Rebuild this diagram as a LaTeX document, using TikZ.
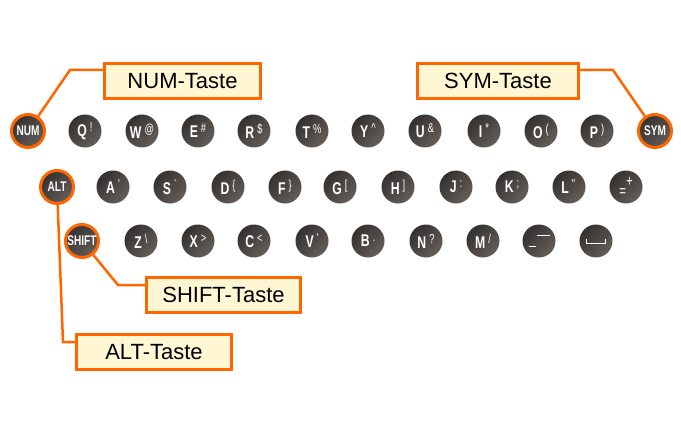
\documentclass[tikz,border=0pt]{standalone}
\usepackage{fontspec}
\setmainfont{Liberation Sans}
\newfontfamily\keyfont[FakeStretch=0.72]{Liberation Sans}
\usepackage{tikz}
\definecolor{tasteorange}{RGB}{255,102,0}
\definecolor{tastefill}{RGB}{255,247,212}
\definecolor{keydark}{RGB}{52,49,47}
\definecolor{keylight}{RGB}{100,94,89}
\newcommand{\keycap}[2]{{\fontsize{17}{17}\selectfont\bfseries #1}\hspace{3pt}\raisebox{5pt}{\fontsize{13}{13}\selectfont #2}}
\tikzset{%
  key/.style       = {circle, inner sep=0pt, minimum size=33pt,%
                      top color=keydark, bottom color=keylight, shading angle=45,%
                      text=white, font=\keyfont},%
  modkey/.style    = {key, draw=tasteorange, line width=3pt,%
                      font=\keyfont\bfseries\fontsize{14}{14}\selectfont},%
  tastebox/.style  = {rectangle, draw=tasteorange, line width=3pt, fill=tastefill,%
                      minimum height=35pt, font=\fontsize{22}{24}\selectfont},%
  connector/.style = {draw=tasteorange, line width=2.5pt}%
}

\begin{document}
\begin{tikzpicture}[x=1pt,y=-1pt]
	\useasboundingbox (0,0) rectangle (681,436);
	% erste Reihe
	\node [modkey] (num) at (28,131) {NUM};
	\node [key] (q) at (85,131) {\keycap{Q}{!}};
	\node [key] (w) at (142,131) {\keycap{W}{@}};
	\node [key] (e) at (198,131) {\keycap{E}{\#}};
	\node [key] (r) at (254,131) {\keycap{R}{\$}};
	\node [key] (t) at (312,131) {\keycap{T}{\%}};
	\node [key] (y) at (368,131) {\keycap{Y}{\textasciicircum}};
	\node [key] (u) at (425,131) {\keycap{U}{\&}};
	\node [key] (i) at (484,131) {\keycap{I}{*}};
	\node [key] (o) at (541,131) {\keycap{O}{(}};
	\node [key] (p) at (597,131) {\keycap{P}{)}};
	\node [modkey] (sym) at (655,131) {SYM};
	% zweite Reihe
	\node [modkey] (alt) at (57,187) {ALT};
	\node [key] (a) at (113,187) {\keycap{A}{'}};
	\node [key] (s) at (170,187) {\keycap{S}{`}};
	\node [key] (d) at (228,187) {\keycap{D}{\{}};
	\node [key] (f) at (285,187) {\keycap{F}{\}}};
	\node [key] (g) at (340,187) {\keycap{G}{[}};
	\node [key] (h) at (398,187) {\keycap{H}{]}};
	\node [key] (j) at (456,187) {\keycap{J}{:}};
	\node [key] (k) at (512,187) {\keycap{K}{;}};
	\node [key] (l) at (569,187) {\keycap{L}{\textquotedbl}};
	\node [key] (plus) at (626,187) {\fontsize{16}{16}\selectfont\raisebox{-5pt}{=}\raisebox{5pt}{+}};
	% dritte Reihe
	\node [modkey] (shift) at (82,241) {SHIFT};
	\node [key] (z) at (141,241) {\keycap{Z}{\textbackslash}};
	\node [key] (x) at (198,241) {\keycap{X}{>}};
	\node [key] (c) at (254,241) {\keycap{C}{<}};
	\node [key] (v) at (312,241) {\keycap{V}{'}};
	\node [key] (b) at (368,241) {\keycap{B}{.}};
	\node [key] (n) at (426,241) {\keycap{N}{?}};
	\node [key] (m) at (483,241) {\keycap{M}{/}};
	\node [key] (minus) at (539,241) {\raisebox{-5pt}{\rule{7pt}{0.8pt}}\hspace{1pt}\raisebox{6pt}{\rule{13pt}{0.8pt}}};
	\node [key] (space) at (596,241) {\raisebox{-3pt}{\rule{0.8pt}{5pt}\rule{18pt}{0.8pt}\rule{0.8pt}{5pt}}};
	% Beschriftungen
	\node [tastebox, minimum width=156pt] (num-box) at (182.5,81) {NUM-Taste};
	\node [tastebox, minimum width=161pt] (sym-box) at (498,81) {SYM-Taste};
	\node [tastebox, minimum width=154pt] (shift-box) at (223.5,295) {SHIFT-Taste};
	\node [tastebox, minimum width=155pt] (alt-box) at (154,352) {ALT-Taste};
	\coordinate (num-knick) at (70,70);
	\coordinate (sym-knick) at (613,70);
	\coordinate (alt-knick) at (63,342);
	\coordinate (shift-knick) at (118,285);
	\draw [connector] (num) -- (num-knick) -- (num-box.west |- num-knick);
	\draw [connector] (sym) -- (sym-knick) -- (sym-box.east |- sym-knick);
	\draw [connector] (alt) -- (alt-knick) -- (alt-box.west |- alt-knick);
	\draw [connector] (shift) -- (shift-knick) -- (shift-box.west |- shift-knick);
\end{tikzpicture}
\end{document}
